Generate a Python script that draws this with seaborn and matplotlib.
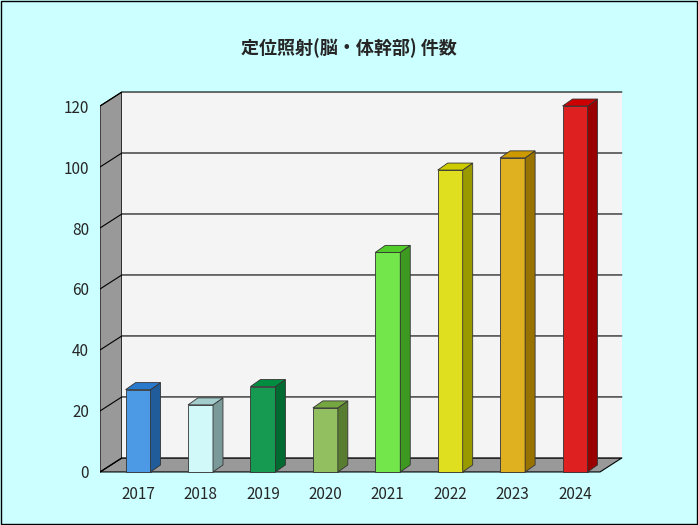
import matplotlib.pyplot as plt
import matplotlib.colors as mcolors
from matplotlib.patches import Polygon, Rectangle
import seaborn as sns

years = ["2017", "2018", "2019", "2020", "2021", "2022", "2023", "2024"]
counts = [27, 22, 28, 21, 72, 99, 103, 120]
colors = ["#3399FF", "#CCFFFF", "#00B050", "#92D050", "#66FF33", "#FFFF00", "#FFC000", "#FF0000"]
yticks = [0, 20, 40, 60, 80, 100, 120]


def darker(c, f=0.6):
    r, g, b = mcolors.to_rgb(c)
    return (r * f, g * f, b * f)


sns.set_theme(style="white")
plt.rcParams["font.family"] = ["Noto Sans CJK JP", "DejaVu Sans"]

fig = plt.figure(figsize=(6.98, 5.25), dpi=100, facecolor="#CCFFFF")
fig.patches.append(Rectangle((0.002, 0.002), 0.996, 0.996, transform=fig.transFigure,
                             fill=False, edgecolor="black", lw=1))
ax = fig.add_axes([100 / 698, 50 / 525, 525 / 698, 390 / 525])
ax.set_facecolor("none")

x0, x1 = -0.61, 7.8
xf = 7.4
dx, dy = 0.35, 4.6
ymax = 120

# walls and floor
ax.add_patch(Polygon([(x0, 0), (xf, 0), (xf + dx, dy), (x0 + dx, dy)],
                     closed=True, facecolor="#999999", edgecolor="black", lw=0.8, zorder=0))
ax.add_patch(Polygon([(x0, 0), (x0, ymax), (x0 + dx, ymax + dy), (x0 + dx, dy)],
                     closed=True, facecolor="#999999", edgecolor="black", lw=0.8, zorder=0))
ax.add_patch(Rectangle((x0 + dx, dy), xf - x0, ymax, facecolor="#F4F4F4",
                       edgecolor="none", zorder=0))
for v in yticks:
    ax.plot([x0, x0 + dx, xf + dx], [v, v + dy, v + dy], color="black", lw=0.8, zorder=0.5)

sns.barplot(x=years, y=counts, hue=years, palette=colors, width=0.4, legend=False,
            edgecolor="#333333", linewidth=0.6, ax=ax, zorder=2)

bdx, bdy = 0.16, 2.3
for p, c in zip(ax.patches[3:], colors):
    pass
bars = [p for p in ax.patches if isinstance(p, Rectangle) and p.get_height() in counts
        and abs(p.get_width() - 0.4) < 1e-6]
for p, c in zip(bars, colors):
    l, w, h = p.get_x(), p.get_width(), p.get_height()
    ax.add_patch(Polygon([(l + w, 0), (l + w + bdx, bdy), (l + w + bdx, h + bdy), (l + w, h)],
                         closed=True, facecolor=darker(c), edgecolor="#333333", lw=0.6, zorder=2))
    ax.add_patch(Polygon([(l, h), (l + bdx, h + bdy), (l + w + bdx, h + bdy), (l + w, h)],
                         closed=True, facecolor=darker(c, 0.8), edgecolor="#333333", lw=0.6, zorder=2))

ax.set_xlim(x0, x1)
ax.set_ylim(-1, 126.9)
ax.set_yticks(yticks)
ax.tick_params(axis="both", labelsize=11, length=0, pad=8)
ax.set_xlabel("")
ax.set_ylabel("")
for s in ax.spines.values():
    s.set_visible(False)

fig.text(0.5, 1 - 48 / 525, "定位照射(脳・体幹部) 件数", ha="center", va="center",
         fontsize=13, fontweight="bold")

fig.savefig("out.png", dpi=100, facecolor=fig.get_facecolor())
